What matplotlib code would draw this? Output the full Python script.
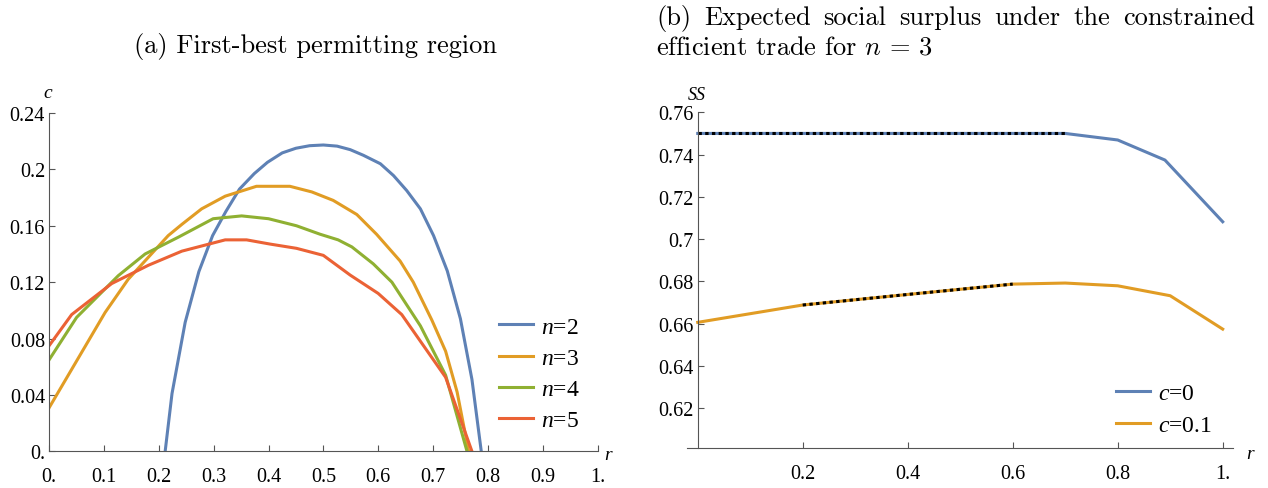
import matplotlib
matplotlib.use('Agg')
import matplotlib.pyplot as plt

# (a) first-best permitting region: boundary c(r) for n = 2..5
r_n2 = [0.2115, 0.224, 0.248, 0.273, 0.298, 0.322, 0.347, 0.374, 0.398, 0.425, 0.45, 0.475,
        0.5, 0.525, 0.549, 0.573, 0.604, 0.628, 0.652, 0.677, 0.701, 0.726, 0.75, 0.771, 0.788]
c_n2 = [0.0, 0.041, 0.0915, 0.1275, 0.153, 0.170, 0.186, 0.197, 0.205, 0.2117, 0.215, 0.2168,
        0.2173, 0.2165, 0.214, 0.210, 0.204, 0.1956, 0.185, 0.172, 0.153, 0.128, 0.094, 0.051, 0.0]

r_n3 = [0.0, 0.102, 0.144, 0.217, 0.242, 0.278, 0.321, 0.378, 0.439, 0.479, 0.518, 0.561,
        0.597, 0.640, 0.664, 0.698, 0.723, 0.744, 0.765]
c_n3 = [0.031, 0.0985, 0.122, 0.153, 0.161, 0.172, 0.181, 0.188, 0.188, 0.184, 0.178, 0.168,
        0.154, 0.135, 0.120, 0.093, 0.071, 0.042, 0.0]

r_n4 = [0.0, 0.050, 0.126, 0.175, 0.236, 0.299, 0.351, 0.400, 0.451, 0.494, 0.527, 0.552,
        0.591, 0.625, 0.677, 0.723, 0.762]
c_n4 = [0.065, 0.095, 0.1246, 0.140, 0.152, 0.165, 0.167, 0.165, 0.160, 0.154, 0.150, 0.145,
        0.133, 0.120, 0.089, 0.054, 0.0]

r_n5 = [0.0, 0.041, 0.114, 0.181, 0.242, 0.321, 0.360, 0.403, 0.451, 0.500, 0.549, 0.600,
        0.643, 0.723, 0.771]
c_n5 = [0.075, 0.097, 0.119, 0.132, 0.142, 0.150, 0.150, 0.147, 0.144, 0.139, 0.125, 0.112,
        0.097, 0.0525, 0.0]

# (b) expected social surplus, n = 3
r_c0 = [0.0, 0.2, 0.4, 0.6, 0.7, 0.8, 0.89, 1.0]
ss_c0 = [0.75, 0.75, 0.75, 0.75, 0.75, 0.7469, 0.7374, 0.7082]
r_c1 = [0.0, 0.2, 0.4, 0.6, 0.7, 0.8, 0.9, 1.0]
ss_c1 = [0.6606, 0.6688, 0.6738, 0.6787, 0.6792, 0.6779, 0.6732, 0.6574]

a_xticks = [0.0, 0.1, 0.2, 0.3, 0.4, 0.5, 0.6, 0.7, 0.8, 0.9, 1.0]
a_xlabels = ['0.', '0.1', '0.2', '0.3', '0.4', '0.5', '0.6', '0.7', '0.8', '0.9', '1.']
a_yticks = [0.0, 0.04, 0.08, 0.12, 0.16, 0.2, 0.24]
a_ylabels = ['0.', '0.04', '0.08', '0.12', '0.16', '0.2', '0.24']
b_xticks = [0.2, 0.4, 0.6, 0.8, 1.0]
b_xlabels = ['0.2', '0.4', '0.6', '0.8', '1.']
b_yticks = [0.62, 0.64, 0.66, 0.68, 0.70, 0.72, 0.74, 0.76]
b_ylabels = ['0.62', '0.64', '0.66', '0.68', '0.7', '0.72', '0.74', '0.76']

BLUE = '#5E81B5'
ORANGE = '#E19C24'
GREEN = '#8FB032'
RED = '#EB6235'
AXIS = '#555555'
LW = 2.2
SERIF = 'Liberation Serif'
TITLE_SIZE = 19

plt.rcParams['mathtext.fontset'] = 'custom'
plt.rcParams['mathtext.rm'] = SERIF
plt.rcParams['mathtext.it'] = SERIF + ':italic'
plt.rcParams['font.family'] = SERIF

W, H = 1268, 489
fig = plt.figure(figsize=(W / 100, H / 100), dpi=100)

legend_kw = dict(loc='upper left', frameon=False, fontsize=17, handlelength=1.44,
                 handletextpad=0.34, labelspacing=0.415, borderpad=0, borderaxespad=0)


def px(x, y):
    return x / W, 1 - y / H


def style_axes(ax):
    for side in ('top', 'right'):
        ax.spines[side].set_visible(False)
    for side in ('left', 'bottom'):
        ax.spines[side].set_color(AXIS)
        ax.spines[side].set_linewidth(0.8)
    ax.tick_params(direction='in', length=4, width=0.8, color=AXIS,
                   labelsize=14.5, labelcolor='black')
    ax.tick_params(axis='x', pad=11.5)
    ax.tick_params(axis='y', pad=3)


def justified_line(text, x0, x1, y, **kw):
    # spread the words so the line runs from x0 to x1 (pixels)
    renderer = fig.canvas.get_renderer()
    words = text.split()
    items = [fig.text(0, 0, w_, **kw) for w_ in words]
    widths = [t.get_window_extent(renderer).width for t in items]
    gap = (x1 - x0 - sum(widths)) / (len(words) - 1)
    x = x0
    for t, w_ in zip(items, widths):
        t.set_position(px(x, y))
        x += w_ + gap


# panel (a)
ax1 = fig.add_axes([49.2 / W, (H - 452.3) / H, 548.3 / W, 338.3 / H])
ax1.plot(r_n2, c_n2, color=BLUE, lw=LW, label='$n$=2')
ax1.plot(r_n3, c_n3, color=ORANGE, lw=LW, label='$n$=3')
ax1.plot(r_n4, c_n4, color=GREEN, lw=LW, label='$n$=4')
ax1.plot(r_n5, c_n5, color=RED, lw=LW, label='$n$=5')
ax1.set_xlim(0, 1)
ax1.set_ylim(0, 0.24)
ax1.set_xticks(a_xticks)
ax1.set_xticklabels(a_xlabels)
ax1.set_yticks(a_yticks)
ax1.set_yticklabels(a_ylabels)
style_axes(ax1)
ax1.legend(bbox_to_anchor=(0.82, 0.400), **legend_kw)

# panel (b)
ax2 = fig.add_axes([686.7 / W, (H - 449.3) / H, 546.5 / W, 336.0 / H])
ax2.plot(r_c0, ss_c0, color=BLUE, lw=LW, label='$c$=0')
ax2.plot(r_c1, ss_c1, color=ORANGE, lw=LW, label='$c$=0.1')
# constrained-efficient stretches overlaid as dotted black
ax2.plot(r_c0[:5], ss_c0[:5], color='black', lw=LW, dashes=(1.1, 1.1))
ax2.plot(r_c1[1:4], ss_c1[1:4], color='black', lw=LW, dashes=(1.1, 1.1))
ax2.set_xlim(-0.021, 1.02)
ax2.set_ylim(0.601, 0.76)
ax2.spines['left'].set_position(('data', 0))
ax2.set_xticks(b_xticks)
ax2.set_xticklabels(b_xlabels)
ax2.set_yticks(b_yticks)
ax2.set_yticklabels(b_ylabels)
style_axes(ax2)
ax2.legend(bbox_to_anchor=(0.7855, 0.1946), **legend_kw)

# axis names
fig.text(*px(48, 93), 'c', fontsize=14, style='italic', ha='center', va='center')
fig.text(*px(608, 456), 'r', fontsize=14, style='italic', ha='center', va='center')
fig.text(*px(697, 95), 'SS', fontsize=13, style='italic', ha='center', va='center')
fig.text(*px(1250, 455), 'r', fontsize=14, style='italic', ha='center', va='center')

# panel titles
title_kw = dict(family='cmr10', fontsize=TITLE_SIZE, va='center', math_fontfamily='cm')
fig.text(*px(315, 47), '(a) First-best permitting region', ha='center', **title_kw)
justified_line('(b) Expected social surplus under the constrained', 656, 1255, 18,
               ha='left', **title_kw)
fig.text(*px(656, 48), 'efficient trade for $n\\,=\\,3$', ha='left', **title_kw)

fig.savefig('out.png', dpi=100, facecolor='white')
